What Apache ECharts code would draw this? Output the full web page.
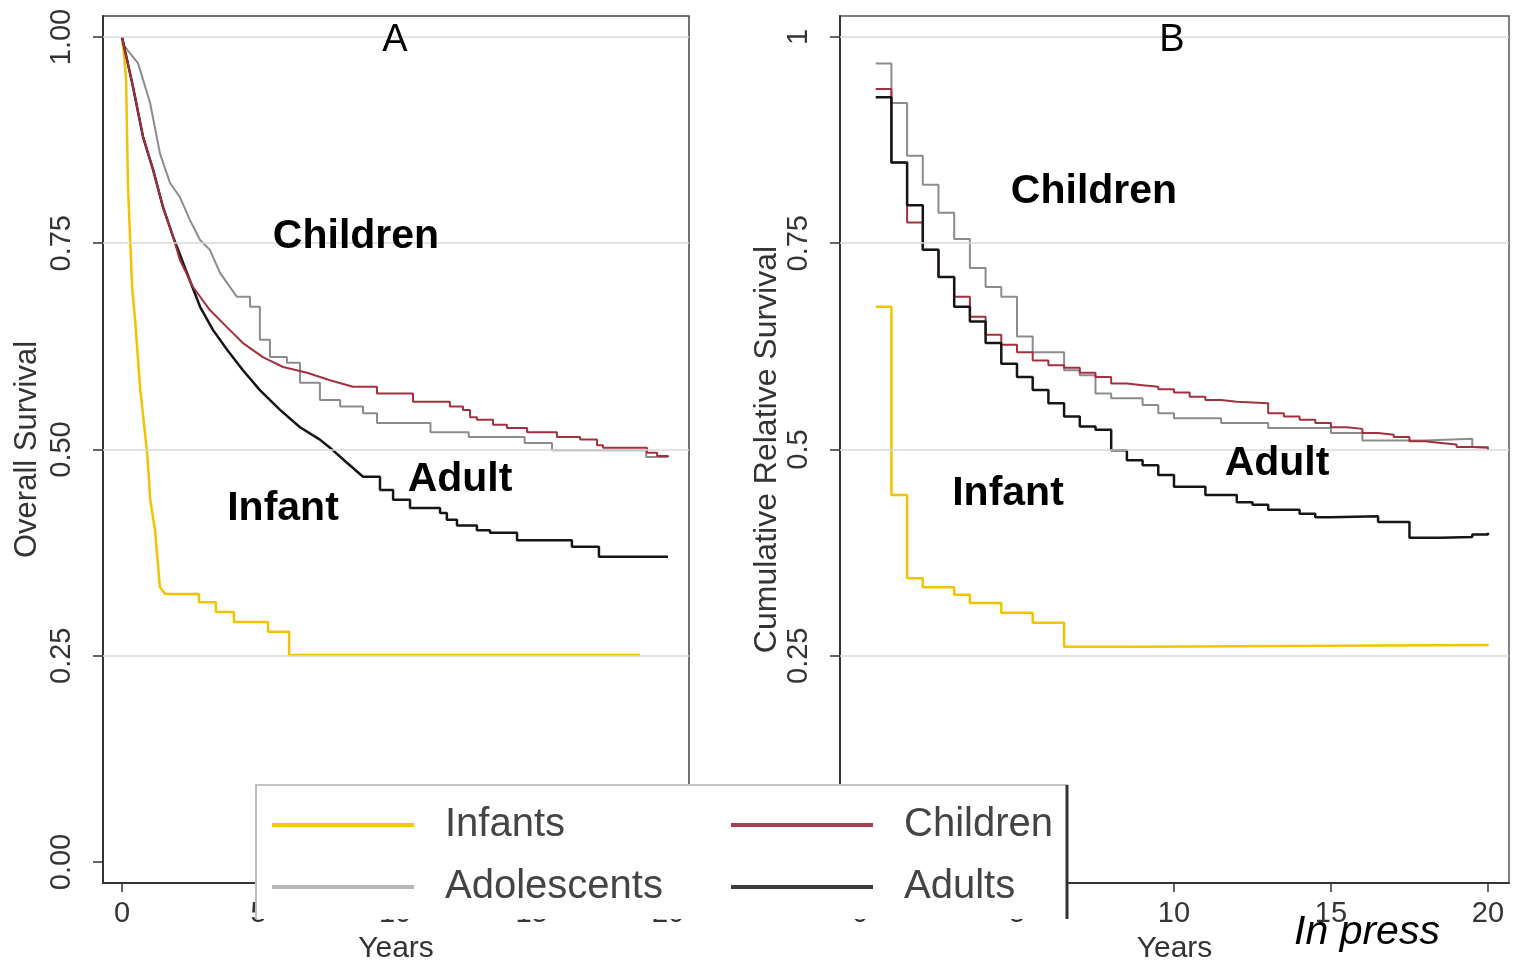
<!DOCTYPE html>
<html><head><meta charset="utf-8">
<script src="https://cdn.jsdelivr.net/npm/echarts@6/dist/echarts.min.js"></script>
<style>html,body{margin:0;padding:0;background:#fff}#c{width:1521px;height:965px}</style>
</head><body><div id="c"></div>
<script>
// ---- tick labels ----
const xTicks = [0, 5, 10, 15, 20];
const yTicksA = [0, 0.25, 0.5, 0.75, 1];
const yTicksB = [0, 0.25, 0.5, 0.75, 1];
const gridValues = [0.25, 0.5, 0.75, 1];
const groups = ['Infants', 'Children', 'Adolescents', 'Adults'];

// ---- Panel A: overall survival (years, survival) ----
const infA_t = [0, 0.07, 0.15, 0.22, 0.37, 0.48, 0.66, 0.92, 0.99, 1.03, 1.21, 1.39, 1.58, 2.82, 3.44, 4.10, 5.35, 6.12, 18.97];
const infA_v = [1, 0.98, 0.948, 0.818, 0.697, 0.657, 0.576, 0.496, 0.463, 0.44, 0.402, 0.333, 0.325, 0.315, 0.303, 0.291, 0.279, 0.251, 0.251];

const chiA_t = [0, 0.40, 0.77, 1.14, 1.50, 1.87, 2.12, 2.60, 3.22, 3.85, 4.43, 5.16, 5.90, 6.78, 7.62, 8.46, 9.34, 10.66, 12.01, 12.49, 12.75, 13.00, 13.59, 14.10, 14.84, 15.93, 16.78, 17.40, 17.62, 19.23, 19.60, 20.0];
const chiA_v = [1, 0.94, 0.879, 0.839, 0.794, 0.758, 0.73, 0.697, 0.669, 0.648, 0.629, 0.612, 0.600, 0.593, 0.584, 0.576, 0.568, 0.558, 0.552, 0.548, 0.539, 0.536, 0.530, 0.526, 0.521, 0.515, 0.512, 0.505, 0.502, 0.496, 0.492, 0.491];

const adoA_t = [0, 0.07, 0.3, 0.59, 1.03, 1.39, 1.76, 2.12, 2.49, 2.86, 3.22, 3.59, 4.21, 4.69, 5.05, 5.42, 6.04, 6.52, 7.25, 7.99, 8.83, 9.34, 11.3, 12.7, 14.75, 15.75, 19.2, 20.0];
const adoA_v = [1, 0.99, 0.98, 0.968, 0.92, 0.859, 0.823, 0.806, 0.778, 0.754, 0.742, 0.714, 0.685, 0.673, 0.633, 0.612, 0.605, 0.581, 0.560, 0.552, 0.544, 0.532, 0.521, 0.515, 0.508, 0.499, 0.491, 0.491];

const aduA_t = [0, 0.40, 0.77, 1.14, 1.50, 1.87, 2.38, 2.86, 3.33, 3.85, 4.43, 5.05, 5.79, 6.52, 7.25, 7.73, 8.24, 8.83, 9.45, 9.93, 10.55, 11.65, 11.90, 12.27, 13.00, 13.48, 14.47, 16.48, 17.47, 20.0];
const aduA_v = [1, 0.94, 0.879, 0.839, 0.794, 0.758, 0.714, 0.673, 0.645, 0.621, 0.596, 0.572, 0.548, 0.527, 0.512, 0.499, 0.484, 0.467, 0.451, 0.439, 0.429, 0.423, 0.415, 0.408, 0.402, 0.399, 0.390, 0.382, 0.370, 0.370];

// ---- Panel B: cumulative relative survival (interval start, value) ----
const infB_t = [0.5, 1, 1.5, 2, 3, 3.5, 4.5, 5.5, 6.5, 9, 15, 20];
const infB_v = [0.673, 0.445, 0.344, 0.333, 0.324, 0.314, 0.302, 0.290, 0.261, 0.262, 0.263, 0.264];

const chiB_t = [0.5, 1, 1.5, 2, 2.5, 3, 3.5, 4, 4.5, 5, 5.5, 6, 6.5, 7, 7.5, 8, 8.5, 9, 9.5, 10, 10.5, 11, 11.5, 12, 12.5, 13, 13.5, 14, 14.5, 15, 15.5, 16, 16.5, 17, 17.5, 18, 18.5, 19, 19.5, 20];
const chiB_v = [0.937, 0.848, 0.775, 0.742, 0.709, 0.685, 0.661, 0.639, 0.627, 0.618, 0.608, 0.602, 0.599, 0.593, 0.588, 0.580, 0.578, 0.576, 0.573, 0.569, 0.564, 0.560, 0.558, 0.557, 0.556, 0.544, 0.540, 0.536, 0.532, 0.527, 0.525, 0.520, 0.518, 0.515, 0.510, 0.508, 0.506, 0.503, 0.502, 0.499];

const adoB_t = [0.5, 1, 1.5, 2, 2.5, 3, 3.5, 4, 4.5, 5, 5.5, 6.5, 7, 7.5, 8, 9, 9.5, 10, 11.5, 13, 15, 16, 18, 19.5, 20];
const adoB_v = [0.968, 0.920, 0.856, 0.821, 0.787, 0.755, 0.720, 0.697, 0.685, 0.637, 0.618, 0.596, 0.590, 0.568, 0.562, 0.554, 0.544, 0.538, 0.532, 0.526, 0.520, 0.511, 0.513, 0.503, 0.502];

const aduB_t = [0.5, 1, 1.5, 2, 2.5, 3, 3.5, 4, 4.5, 5, 5.5, 6, 6.5, 7, 7.5, 8, 8.5, 9, 9.5, 10, 11, 12, 12.5, 13, 14, 14.5, 15, 16.5, 17.5, 18.5, 19.5, 20];
const aduB_v = [0.927, 0.848, 0.796, 0.742, 0.709, 0.673, 0.655, 0.629, 0.604, 0.588, 0.572, 0.556, 0.540, 0.528, 0.524, 0.499, 0.487, 0.481, 0.469, 0.455, 0.445, 0.436, 0.433, 0.427, 0.422, 0.418, 0.419, 0.412, 0.393, 0.394, 0.397, 0.399];

// ---- helpers ----
function pairs(t, v) { return t.map((x, i) => [x, v[i]]); }
// KM style: continuous early part, horizontal-then-drop steps after `from`
function km(t, v, from) {
  const out = [];
  for (let i = 0; i < t.length; i++) {
    if (i > 0 && t[i] > from) out.push([t[i], v[i - 1]]);
    out.push([t[i], v[i]]);
  }
  return out;
}

const COL = { Infants: '#f3c300', Children: '#a3303f', Adolescents: '#8c8c8c', Adults: '#151515' };
const LEGCOL = { Infants: '#f5c518', Children: '#a8404e', Adolescents: '#b8b8b8', Adults: '#3c3c3c' };
const FONT = 'Liberation Sans, Arial, Helvetica, sans-serif';

function lineSeries(name, data, idx, opts) {
  return Object.assign({
    type: 'line', name: name, data: data, xAxisIndex: idx, yAxisIndex: idx,
    showSymbol: false, symbol: 'none', color: COL[name],
    lineStyle: { color: COL[name], width: 2 }, silent: true, z: 3
  }, opts || {});
}
function gridSeries(idx) {
  return {
    type: 'line', name: 'grid' + idx, data: [], xAxisIndex: idx, yAxisIndex: idx, z: 1,
    markLine: { silent: true, symbol: ['none', 'none'], label: { show: false },
      lineStyle: { color: '#d9d9d9', width: 1.5, type: 'solid' },
      data: gridValues.map(v => ({ yAxis: v })) }
  };
}

function xAxisCfg(idx, min, max) {
  return {
    gridIndex: idx, type: 'value', min: min, max: max,
    axisLine: { show: true, onZero: false, lineStyle: { color: '#333', width: 2 } },
    axisTick: { show: true, customValues: xTicks, length: 9, lineStyle: { color: '#333', width: 1.5 } },
    axisLabel: { customValues: xTicks, fontSize: 29, color: '#333', margin: 16, fontFamily: FONT },
    splitLine: { show: false },
    name: 'Years', nameLocation: 'middle', nameGap: 51,
    nameTextStyle: { fontSize: 30, color: '#333', fontFamily: FONT }
  };
}
function yAxisCfg(idx, ticks, fmt, name, gap, nsize) {
  return {
    gridIndex: idx, type: 'value', min: -0.02545, max: 1.02545,
    axisLine: { show: true, onZero: false, lineStyle: { color: '#333', width: 2 } },
    axisTick: { show: true, customValues: ticks, length: 10, lineStyle: { color: '#333', width: 1.5 } },
    axisLabel: { customValues: ticks, rotate: 90, fontSize: 29, color: '#333', margin: 27, fontFamily: FONT, formatter: fmt },
    splitLine: { show: false },
    name: name, nameLocation: 'middle', nameGap: gap, nameRotate: 90,
    nameTextStyle: { fontSize: nsize, color: '#333', fontFamily: FONT }
  };
}

function legendCfg(name, left, top) {
  return {
    data: [{ name: name, itemStyle: { color: LEGCOL[name] } }],
    left: left, top: top, z: 110, padding: 0, selectedMode: false,
    icon: 'rect', itemWidth: 142, itemHeight: 4,
    textStyle: { fontSize: 40, color: '#444', fontFamily: FONT, lineHeight: 40, padding: [0, 0, 0, 26] }
  };
}

function txt(s, x, y, size, weight, style) {
  return { type: 'text', x: x, y: y, z: 120, silent: true,
    style: { text: s, fill: '#000', font: (style || 'normal') + ' ' + (weight || 'normal') + ' ' + size + 'px ' + FONT,
      textAlign: 'center', textVerticalAlign: 'middle' } };
}

const chart = echarts.init(document.getElementById('c'), null, { renderer: 'canvas' });
chart.setOption({
  animation: false,
  backgroundColor: '#fff',
  grid: [
    { left: 103, top: 16, width: 586, height: 867, outerBoundsMode: 'none', containLabel: false, show: true, borderColor: '#444', borderWidth: 1.5, backgroundColor: 'transparent' },
    { left: 840, top: 16, width: 669, height: 867, outerBoundsMode: 'none', containLabel: false, show: true, borderColor: '#555', borderWidth: 1.5, backgroundColor: 'transparent' }
  ],
  xAxis: [xAxisCfg(0, -0.696, 20.769), xAxisCfg(1, -0.637, 20.67)],
  yAxis: [
    yAxisCfg(0, yTicksA, v => v.toFixed(2), 'Overall Survival', 60, 31),
    yAxisCfg(1, yTicksB, v => (v === 1 ? '1' : String(v)), 'Cumulative Relative Survival', 53, 32)
  ],
  legend: [
    legendCfg('Infants', 272, 805), legendCfg('Children', 731, 805),
    legendCfg('Adolescents', 272, 867), legendCfg('Adults', 731, 867)
  ],
  series: [
    gridSeries(0), gridSeries(1),
    lineSeries('Infants', km(infA_t, infA_v, 1.6), 0, { lineStyle: { color: COL.Infants, width: 2.5 } }),
    lineSeries('Adolescents', km(adoA_t, adoA_v, 4.5), 0),
    lineSeries('Adults', km(aduA_t, aduA_v, 9), 0, { lineStyle: { color: COL.Adults, width: 2.5 } }),
    lineSeries('Children', km(chiA_t, chiA_v, 9), 0),
    lineSeries('Infants', pairs(infB_t, infB_v), 1, { step: 'end', lineStyle: { color: COL.Infants, width: 2.5 } }),
    lineSeries('Adolescents', pairs(adoB_t, adoB_v), 1, { step: 'end' }),
    lineSeries('Children', pairs(chiB_t, chiB_v), 1, { step: 'end' }),
    lineSeries('Adults', pairs(aduB_t, aduB_v), 1, { step: 'end', lineStyle: { color: COL.Adults, width: 2.5 } })
  ],
  graphic: [
    { type: 'rect', z: 100, silent: true, shape: { x: 255, y: 785, width: 813, height: 134 }, style: { fill: '#fff' } },
    { type: 'line', z: 101, silent: true, shape: { x1: 255, y1: 785, x2: 1068, y2: 785 }, style: { stroke: '#c4c4c4', lineWidth: 2 } },
    { type: 'line', z: 101, silent: true, shape: { x1: 256, y1: 785, x2: 256, y2: 919 }, style: { stroke: '#bdbdbd', lineWidth: 2 } },
    { type: 'line', z: 101, silent: true, shape: { x1: 1067, y1: 785, x2: 1067, y2: 919 }, style: { stroke: '#333', lineWidth: 3 } },
    txt('A', 395, 41, 38),
    txt('B', 1172, 41, 38),
    txt('Children', 356, 237, 41, 'bold'),
    txt('Adult', 460, 480, 41, 'bold'),
    txt('Infant', 283, 509, 41, 'bold'),
    txt('Children', 1094, 192, 41, 'bold'),
    txt('Adult', 1277, 464, 41, 'bold'),
    txt('Infant', 1008, 494, 41, 'bold'),
    txt('In press', 1367, 933, 41, 'normal', 'italic')
  ]
});
</script></body></html>
